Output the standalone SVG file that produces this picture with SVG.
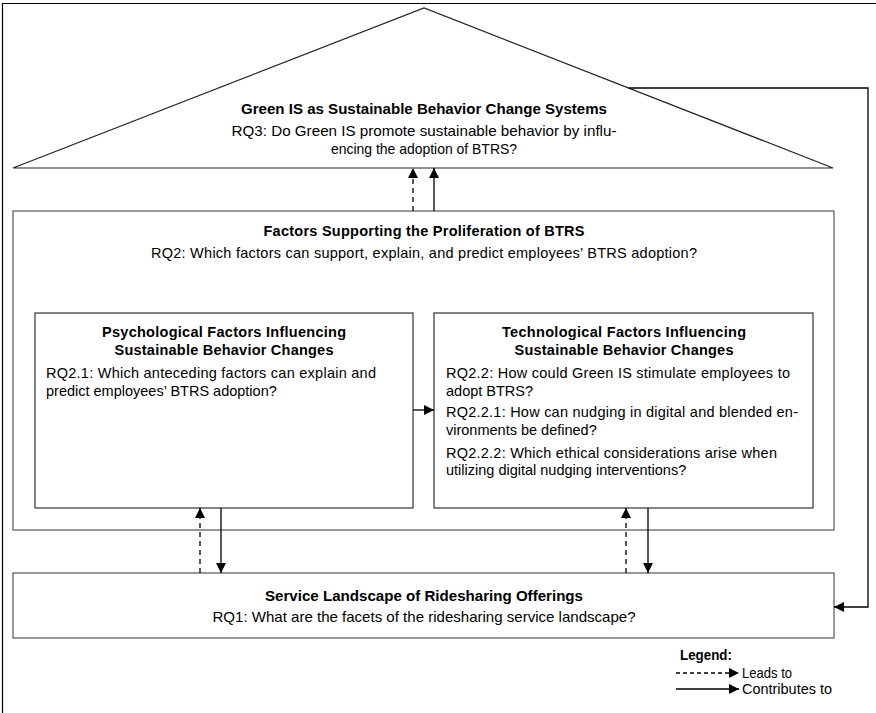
<svg xmlns="http://www.w3.org/2000/svg" width="876" height="713" viewBox="0 0 876 713">
<defs>
<marker id="ah" viewBox="0 0 10 10" refX="10" refY="5" markerWidth="10" markerHeight="10" markerUnits="userSpaceOnUse" orient="auto">
<path d="M0,0 L10,5 L0,10 Z" fill="#000"/>
</marker>
</defs>
<style>
text{font-family:"Liberation Sans",Arial,sans-serif;fill:#000;}
.t{font-size:14.5px;font-weight:bold;text-anchor:middle;}
.b{font-size:14.5px;}
.c{text-anchor:middle;}
.n{font-size:15px;text-anchor:middle;}
.nb{font-size:15px;font-weight:bold;text-anchor:middle;}
.box{fill:#fff;stroke:#555;stroke-width:1.2;}
.inner{fill:#fff;stroke:#333;stroke-width:1.2;}
.con{fill:none;stroke:#000;stroke-width:1.3;}
.dash{stroke-dasharray:5,4;}
</style>
<path d="M2.5,713 V3.5 H876" fill="none" stroke="#000" stroke-width="1.2"/>
<g id="roof">
<path d="M13,168 L424,8 L833,168 Z" fill="#fff" stroke="#222" stroke-width="1.2"/>
<text class="nb" x="424" y="114" textLength="366" lengthAdjust="spacingAndGlyphs">Green IS as Sustainable Behavior Change Systems</text>
<text class="n" x="424" y="136" textLength="385" lengthAdjust="spacingAndGlyphs">RQ3: Do Green IS promote sustainable behavior by influ-</text>
<text class="n" x="424" y="154" textLength="186" lengthAdjust="spacingAndGlyphs">encing the adoption of BTRS?</text>
</g>
<g id="factors">
<rect class="box" x="13" y="211" width="821" height="319"/>
<text class="t" x="424" y="236" textLength="321">Factors Supporting the Proliferation of BTRS</text>
<text class="b c" x="424" y="258" textLength="546">RQ2: Which factors can support, explain, and predict employees’ BTRS adoption?</text>
</g>
<g id="psychological">
<rect class="inner" x="35" y="313" width="378" height="195"/>
<text class="t" x="224" y="337" textLength="244">Psychological Factors Influencing</text>
<text class="t" x="224" y="355" textLength="219">Sustainable Behavior Changes</text>
<text class="b" x="46" y="378" textLength="330">RQ2.1: Which anteceding factors can explain and</text>
<text class="b" x="46" y="396">predict employees’ BTRS adoption?</text>
</g>
<g id="technological">
<rect class="inner" x="434" y="313" width="379" height="195"/>
<text class="t" x="624" y="337" textLength="244">Technological Factors Influencing</text>
<text class="t" x="624" y="355" textLength="219">Sustainable Behavior Changes</text>
<text class="b" x="446" y="378" textLength="344">RQ2.2: How could Green IS stimulate employees to</text>
<text class="b" x="446" y="396">adopt BTRS?</text>
<text class="b" x="446" y="417" textLength="352">RQ2.2.1: How can nudging in digital and blended en-</text>
<text class="b" x="446" y="435">vironments be defined?</text>
<text class="b" x="446" y="458" textLength="331">RQ2.2.2: Which ethical considerations arise when</text>
<text class="b" x="446" y="475">utilizing digital nudging interventions?</text>
</g>
<g id="service">
<rect class="box" x="13" y="573" width="821" height="65"/>
<text class="nb" x="424" y="601" textLength="318" lengthAdjust="spacingAndGlyphs">Service Landscape of Ridesharing Offerings</text>
<text class="n" x="424" y="622" textLength="423" lengthAdjust="spacingAndGlyphs">RQ1: What are the facets of the ridesharing service landscape?</text>
</g>
<g id="connectors">
<line class="con dash" x1="413" y1="211" x2="413" y2="168" marker-end="url(#ah)"/>
<line class="con" x1="434" y1="211" x2="434" y2="168" marker-end="url(#ah)"/>
<line class="con" x1="413" y1="410" x2="434" y2="410" marker-end="url(#ah)"/>
<line class="con dash" x1="200" y1="573" x2="200" y2="508" marker-end="url(#ah)"/>
<line class="con" x1="221" y1="508" x2="221" y2="573" marker-end="url(#ah)"/>
<line class="con dash" x1="626" y1="573" x2="626" y2="508" marker-end="url(#ah)"/>
<line class="con" x1="648" y1="508" x2="648" y2="573" marker-end="url(#ah)"/>
<path class="con" d="M628.5,88 H868 V607 H834" marker-end="url(#ah)"/>
</g>
<g id="legend">
<text class="nb" x="680" y="660" style="text-anchor:start" textLength="52" lengthAdjust="spacingAndGlyphs">Legend:</text>
<line class="con dash" x1="676" y1="673" x2="739" y2="673" marker-end="url(#ah)" style="stroke-dasharray:4,3"/>
<line class="con" x1="676" y1="689" x2="739" y2="689" marker-end="url(#ah)"/>
<text class="n" x="742" y="678" style="text-anchor:start" textLength="50" lengthAdjust="spacingAndGlyphs">Leads to</text>
<text class="n" x="742" y="694" style="text-anchor:start" textLength="90" lengthAdjust="spacingAndGlyphs">Contributes to</text>
</g>
</svg>
